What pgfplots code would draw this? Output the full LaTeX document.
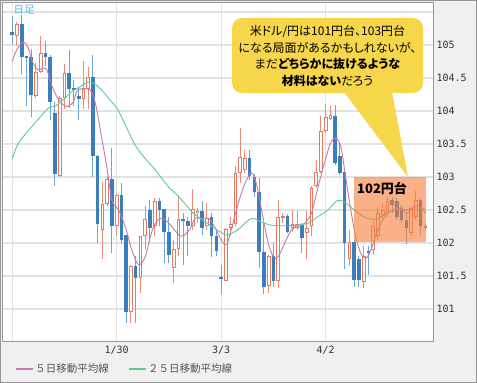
\documentclass[border=0pt]{standalone}
\usepackage{pgfplots}
\pgfplotsset{compat=1.18}
\usepackage{pgfplotstable}
\usepackage{fontspec}
\setmainfont{Noto Sans CJK JP}
\newfontfamily\jpp{Noto Sans CJK JP}[RawFeature=+palt]
\newfontfamily\monof{DejaVu Sans Mono}
\definecolor{bluebody}{RGB}{58,126,190}
\definecolor{bluewick}{RGB}{110,165,215}
\definecolor{redline}{RGB}{232,120,95}
\definecolor{redwick}{RGB}{236,140,120}
\definecolor{maf}{RGB}{200,120,170}
\definecolor{mat}{RGB}{90,205,145}
\definecolor{gridgray}{RGB}{226,226,226}
\definecolor{bggray}{RGB}{240,240,240}
\definecolor{framegray}{RGB}{150,150,150}
\definecolor{callY}{RGB}{246,214,74}
\definecolor{shadeor}{RGB}{248,125,55}
\definecolor{nikkei}{RGB}{70,190,235}
\definecolor{legtext}{RGB}{85,85,85}

\pgfplotstableread{
x O H L C
1 105.14 105.34 104.99 105.31
5 104.23 104.73 104.19 104.59
6 104.59 105.13 104.58 104.88
10 103.02 104.22 103.00 104.20
11 104.19 104.71 104.03 104.58
15 104.18 104.76 104.03 104.33
16 104.33 104.66 104.03 104.51
19 102.20 102.92 101.75 102.59
20 102.59 103.02 102.56 102.97
22 102.25 102.76 102.10 102.73
25 100.96 101.66 100.79 101.65
27 101.47 102.10 101.24 102.10
28 102.10 102.56 101.90 102.36
30 102.25 102.68 102.10 102.63
34 101.62 102.05 101.39 101.91
35 101.91 102.70 101.80 102.36
38 102.26 102.81 102.20 102.51
39 102.45 102.53 102.30 102.49
41 102.25 102.60 102.20 102.38
45 101.43 102.23 101.42 102.21
46 102.23 102.40 102.10 102.28
47 102.28 103.16 102.25 103.06
48 103.06 103.74 102.91 103.30
49 103.11 103.41 103.06 103.29
54 101.35 101.82 101.24 101.80
56 101.43 102.65 101.32 102.40
57 102.38 102.45 102.30 102.41
59 102.23 102.50 102.16 102.28
60 102.23 102.48 102.20 102.28
62 102.15 102.48 101.75 102.23
63 102.25 102.86 102.10 102.83
64 102.86 103.26 102.83 103.08
65 103.08 103.92 103.06 103.69
66 103.70 104.11 103.66 103.91
67 103.88 104.07 103.86 103.94
71 101.75 102.20 101.65 102.02
74 101.41 101.95 101.32 101.80
76 101.90 102.35 101.82 102.25
77 102.10 102.55 102.05 102.45
78 102.42 102.60 102.38 102.50
79 102.45 102.70 102.40 102.63
84 102.15 102.55 102.10 102.53
85 102.40 102.78 102.35 102.65
87 102.23 102.30 102.20 102.25
}\up

\pgfplotstableread{
x O H L C
0 105.19 105.44 105.00 105.15
2 105.31 105.45 104.56 104.81
3 104.82 104.83 104.08 104.80
4 104.81 104.94 103.91 104.24
7 104.88 105.06 104.68 104.82
8 104.82 104.85 103.87 104.13
9 103.97 104.13 102.87 103.04
12 104.58 104.93 104.05 104.33
13 104.34 104.47 104.08 104.32
14 104.22 104.34 103.87 104.18
17 104.51 104.85 103.00 103.32
18 103.32 103.33 102.00 102.28
21 102.97 103.44 101.85 102.26
23 102.73 102.91 102.00 102.05
24 102.12 102.12 100.79 100.96
26 101.65 101.80 100.79 101.47
29 102.50 102.65 102.00 102.23
31 102.63 102.68 102.25 102.50
32 102.51 102.52 101.70 102.16
33 102.16 102.40 101.70 101.82
36 102.36 102.45 101.67 102.33
37 102.34 102.40 101.80 102.26
40 102.49 102.63 102.12 102.23
42 102.40 102.45 101.78 102.10
43 102.11 102.18 101.80 101.88
44 101.48 101.67 101.22 101.45
50 103.29 103.41 102.96 103.01
51 103.00 103.05 102.70 102.77
52 102.77 102.98 101.62 101.87
53 101.87 102.30 101.22 101.34
55 101.80 102.00 101.34 101.43
58 102.41 102.44 102.15 102.16
61 102.28 102.30 101.85 102.07
68 103.92 104.09 103.18 103.21
69 103.31 103.51 103.03 103.06
70 103.08 103.08 101.60 102.00
72 102.02 102.05 101.34 101.44
73 101.75 101.80 101.34 101.44
75 101.88 101.95 101.52 101.85
80 102.65 102.70 102.45 102.58
81 102.63 102.68 102.35 102.40
82 102.53 102.58 102.30 102.35
83 102.35 102.45 101.98 102.22
86 102.65 102.68 102.12 102.25
}\down

\pgfplotsset{
  candle/.style={draw=none, mark=none, forget plot,
    error bars/.cd, y dir=plus, y explicit, error mark=none,
    error bar style={#1}},
}

\begin{document}
\begin{tikzpicture}[x=1pt,y=1pt]
\useasboundingbox (0,0) rectangle (477,383);
\fill[bggray] (0,0) rectangle (477,383);
\draw[framegray, line width=1pt] (0.5,0.5) rectangle (476.5,382.5);
\begin{axis}[
  at={(2pt,42pt)}, anchor=south west,
  scale only axis, width=431pt, height=339pt,
  xmin=-2.15, xmax=88.6, ymin=100.515, ymax=105.65,
  axis background/.style={fill=white},
  axis line style={draw=framegray, line width=0.8pt},
  grid=major, major grid style={draw=gridgray, line width=1.3pt},
  xtick={0,22,44,66}, xticklabels={,1/30,3/3,4/2},
  ytick={101,101.5,102,102.5,103,103.5,104,104.5,105,105.5},
  yticklabels={101,101.5,102,102.5,103,103.5,104,104.5,105,},
  yticklabel pos=right,
  major tick length=0pt, tick style={draw=none},
  ticklabel style={font=\monof\fontsize{10}{12}\selectfont, text=black!80},
  xticklabel style={yshift=-2pt},
  legend columns=2,
  legend style={at={(0.0302,-0.0826)}, anchor=west, draw=none, fill=none,
    inner sep=0pt, font=\fontsize{10.5}{12}\selectfont,
    /tikz/every even column/.append style={column sep=17pt}},
]
% wicks
\addplot[candle={draw=bluewick, line width=1pt}]
  table[x=x, y=L, y error plus expr=\thisrow{H}-\thisrow{L}] {\down};
\addplot[candle={draw=redwick, line width=1pt}]
  table[x=x, y=L, y error plus expr=\thisrow{H}-\thisrow{L}] {\up};
% bodies
\addplot[candle={draw=bluebody, line width=3.6pt}]
  table[x=x, y=C, y error plus expr={max(\thisrow{O}-\thisrow{C},0.025)}] {\down};
\addplot[candle={draw=redline, line width=3.8pt}]
  table[x=x, y=O, y error plus expr={max(\thisrow{C}-\thisrow{O},0.03)}] {\up};
\addplot[candle={draw=white, line width=1.8pt}]
  table[x=x, y expr=\thisrow{O}+0.015, y error plus expr={max(\thisrow{C}-\thisrow{O}-0.03,0)}] {\up};
% moving averages
\addplot[color=maf, line width=0.9pt, smooth, mark=none, forget plot] coordinates {
(0,104.75) (0.9,104.92) (2.0,105.03) (2.7,105.03) (3.4,104.95) (4.4,104.72) (5.5,104.62) (6.5,104.65) (7.3,104.62) (8.3,104.39) (9.4,104.22) (10.8,104.09) (11.8,104.07) (12.9,104.14) (13.6,104.30) (14.3,104.33) (15.3,104.34) (16.4,104.32) (17.1,104.22) (17.8,104.02) (18.8,103.61) (19.9,103.16) (21.0,102.65) (22.4,102.50) (23.8,102.25) (25.2,101.89) (26.6,101.67) (28.0,101.79) (29.1,102.10) (30.1,102.30) (31.2,102.37) (32.2,102.35) (33.6,102.25) (35.1,102.12) (36.1,102.11) (37.5,102.22) (38.5,102.37) (40.0,102.37) (41.4,102.37) (42.8,102.22) (44.2,102.02) (45.2,101.98) (46.1,102.20) (47.6,102.60) (49.0,102.90) (50.4,103.06) (51.4,102.90) (52.5,102.50) (53.9,102.00) (55.0,101.79) (56.0,101.79) (57.4,102.00) (58.8,102.20) (60.2,102.25) (61.6,102.30) (63.0,102.45) (64.4,102.85) (65.7,103.20) (67.0,103.51) (68.1,103.59) (69.2,103.46) (70.2,103.00) (71.3,102.50) (72.3,102.10) (73.4,101.84) (74.5,101.77) (75.5,101.89) (76.5,102.10) (77.6,102.30) (79.0,102.45) (80.4,102.50) (81.8,102.53) (83.2,102.45) (84.6,102.55) (86.0,102.55) (87.0,102.45)
};
\addplot[color=mat, line width=0.9pt, smooth, mark=none, forget plot] coordinates {
(0,103.27) (1.3,103.51) (4.1,103.76) (7.6,104.04) (9.0,104.07) (10.8,104.17) (12.5,104.29) (14.6,104.38) (16.0,104.44) (17.1,104.42) (18.8,104.32) (20.9,104.14) (22.1,104.04) (23.8,103.79) (25.9,103.48) (28.0,103.28) (30.1,103.11) (32.9,102.85) (35.1,102.70) (37.9,102.47) (40.0,102.35) (42.1,102.25) (44.2,102.15) (45.4,102.12) (47.5,102.20) (50.3,102.37) (52.4,102.32) (54.5,102.27) (57.4,102.26) (60.2,102.27) (62.3,102.30) (64.4,102.40) (66.5,102.50) (68.4,102.64) (69.9,102.62) (72.0,102.50) (74.0,102.40) (76.2,102.36) (78.3,102.42) (80.4,102.50) (83.2,102.50) (87.0,102.52)
};
\addlegendimage{legend image code/.code={\draw[draw=maf, line width=1.2pt] (0pt,0pt) -- (17pt,0pt);}}
\addlegendentry{\textcolor{legtext}{５日移動平均線}}
\addlegendimage{legend image code/.code={\draw[draw=mat, line width=1.2pt] (0pt,0pt) -- (17pt,0pt);}}
\addlegendentry{\textcolor{legtext}{２５日移動平均線}}
\end{axis}
% shaded range
\fill[shadeor, opacity=0.6] (354,141.3) rectangle (426,205.7);
\node[anchor=west, inner sep=0pt, font=\bfseries\fontsize{13}{13}\selectfont] at (357,195) {102円台};
% callout
\fill[callY, rounded corners=10pt] (232,290) rectangle (423,365);
\fill[callY] (344,291) -- (392,291) -- (408,206) -- cycle;
\begin{scope}[every node/.style={inner sep=0pt, font=\jpp\fontsize{12}{14}\selectfont}]
\node at (327.5,351.3) {米ドル/円は101円台、103円台};
\node at (327.5,335.3) {になる局面があるかもしれないが、};
\node at (327.5,318.8) {まだ{\bfseries どちらかに抜けるような}};
\node at (327.5,302.0) {{\bfseries 材料はない}だろう};
\end{scope}
\node[text=nikkei, inner sep=0pt, font=\fontsize{10.5}{12}\selectfont] at (24,373) {日足};
\end{tikzpicture}
\end{document}
